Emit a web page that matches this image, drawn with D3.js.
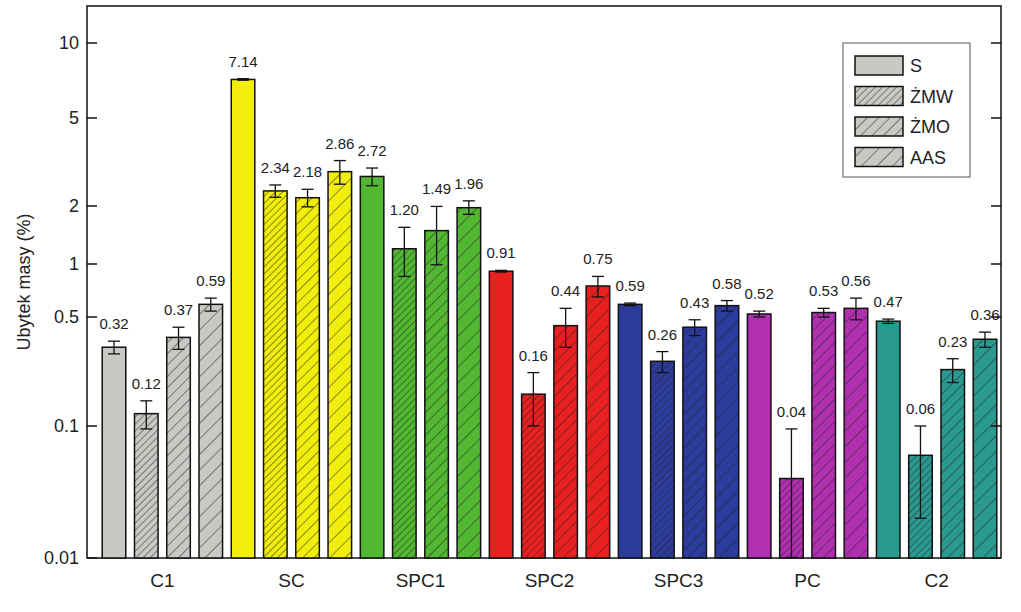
<!DOCTYPE html><html><head><meta charset="utf-8">
<script src="https://cdn.jsdelivr.net/npm/d3@7"></script>
<style>body{margin:0;background:#fff}text{font-family:"Liberation Sans",Arial,sans-serif}</style></head><body>
<svg id="c" width="1021" height="612"></svg>
<script>
const groups=["C1","SC","SPC1","SPC2","SPC3","PC","C2"];
const series=["S","ŻMW","ŻMO","AAS"];
const colors=["#c9c8c4","#f2ee0c","#52b832","#e82020","#2c3c9c","#b030b0","#2a9a90"];
const values=[[0.32,0.12,0.37,0.59],[7.14,2.34,2.18,2.86],[2.72,1.20,1.49,1.96],[0.91,0.16,0.44,0.75],[0.59,0.26,0.43,0.58],[0.52,0.04,0.53,0.56],[0.47,0.06,0.23,0.36]];
const errors=[[0.03,0.025,0.06,0.05],[0.05,0.15,0.2,0.35],[0.25,0.35,0.5,0.15],[0.01,0.06,0.12,0.1],[0.01,0.04,0.05,0.04],[0.02,0.055,0.03,0.08],[0.015,0.04,0.04,0.04]];
const yTicks=[0.01,0.1,0.5,1,2,5,10];
const hatchGap=[0,5,8,11];

const svg=d3.select("#c");
const L=87,R=1001,T=6,B=558;
const y=d3.scaleLog().domain([0.01,0.1,0.5,1,2,5,10]).range([558,426,317,264,206,118,43]).clamp(true);
const flat=[];groups.forEach((g,gi)=>series.forEach((s,si)=>flat.push({g,gi,s,si,v:values[gi][si],e:errors[gi][si]})));
const x=d3.scaleBand().domain(d3.range(flat.length)).range([99,1000]).paddingInner(0.27).paddingOuter(0.1);
const defs=svg.append("defs");
function pat(ci,si){const id=`p${ci}_${si}`;const g=hatchGap[si];
 const p=defs.append("pattern").attr("id",id).attr("patternUnits","userSpaceOnUse").attr("width",g).attr("height",g).attr("patternTransform","rotate(45)");
 p.append("rect").attr("width",g).attr("height",g).attr("fill",colors[ci]);
 p.append("line").attr("x1",0).attr("y1",0).attr("x2",0).attr("y2",g).attr("stroke","#222").attr("stroke-width",1);
 return `url(#${id})`;}
function fillOf(ci,si){return si===0?colors[ci]:pat(ci,si);}
svg.append("rect").attr("x",L).attr("y",T).attr("width",R-L).attr("height",B-T).attr("fill","none").attr("stroke","#111").attr("stroke-width",1.5);
flat.forEach((d,i)=>{
 const x0=x(i),w=x.bandwidth();
 svg.append("rect").attr("x",x0).attr("y",y(d.v)).attr("width",w).attr("height",B-y(d.v)).attr("fill",fillOf(d.gi,d.si)).attr("stroke","#111").attr("stroke-width",1.5);
 const cx=x0+w/2,yt=y(d.v+d.e),yb=y(Math.max(d.v-d.e,0.0101));
 const eb=svg.append("g").attr("stroke","#111").attr("stroke-width",1.3);
 eb.append("line").attr("x1",cx).attr("x2",cx).attr("y1",yt).attr("y2",yb);
 eb.append("line").attr("x1",cx-6).attr("x2",cx+6).attr("y1",yt).attr("y2",yt);
 eb.append("line").attr("x1",cx-6).attr("x2",cx+6).attr("y1",yb).attr("y2",yb);
 svg.append("text").attr("x",cx).attr("y",yt-12).attr("text-anchor","middle").attr("font-size",15).attr("fill","#222").text(d.v.toFixed(2));
});
yTicks.forEach(t=>{const yy=y(t);
 svg.append("line").attr("x1",L).attr("x2",L+10).attr("y1",yy).attr("y2",yy).attr("stroke","#111").attr("stroke-width",1.5);
 svg.append("line").attr("x1",R-10).attr("x2",R).attr("y1",yy).attr("y2",yy).attr("stroke","#111").attr("stroke-width",1.5);
 svg.append("text").attr("x",L-8).attr("y",yy+6).attr("text-anchor","end").attr("font-size",18).attr("fill","#222").text(String(t));
});
groups.forEach((g,gi)=>{const cx=(x(gi*4)+x(gi*4+3)+x.bandwidth())/2;
 svg.append("text").attr("x",cx).attr("y",587).attr("text-anchor","middle").attr("font-size",19).attr("fill","#222").text(g);});
svg.append("text").attr("transform","translate(30,282) rotate(-90)").attr("text-anchor","middle").attr("font-size",18).attr("fill","#222").text("Ubytek masy (%)");
const lg=svg.append("g");
lg.append("rect").attr("x",843).attr("y",43).attr("width",127).attr("height",134).attr("fill","#fff").attr("stroke","#555").attr("stroke-width",1);
series.forEach((s,si)=>{const yy=56+si*30.5;
 lg.append("rect").attr("x",855).attr("y",yy).attr("width",48).attr("height",19).attr("fill",fillOf(0,si)).attr("stroke","#111").attr("stroke-width",1.5);
 lg.append("text").attr("x",910).attr("y",yy+16).attr("font-size",18).attr("fill","#222").text(s);});
</script></body></html>
